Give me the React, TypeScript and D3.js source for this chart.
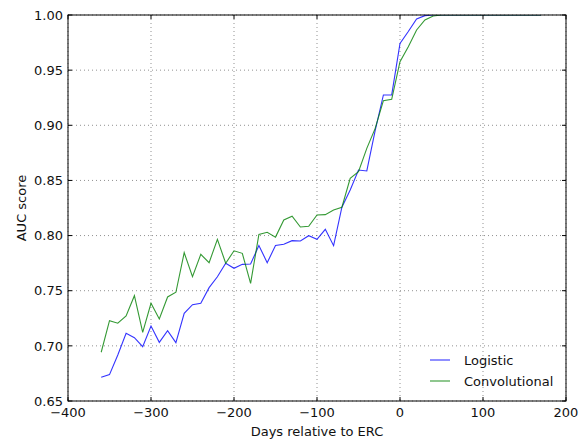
import React from "react";
import * as d3 from "d3";

const days = [-360,-350,-340,-330,-320,-310,-300,-290,-280,-270,-260,-250,-240,-230,-220,-210,-200,-190,-180,-170,-160,-150,-140,-130,-120,-110,-100,-90,-80,-70,-60,-50,-40,-30,-20,-10,0,10,20,30,40,50,60,70,80,90,100,110,120,130,140,150,160,170];

const logistic = [0.6715,0.6739,0.6917,0.7114,0.7074,0.6993,0.7180,0.7032,0.7138,0.7029,0.7295,0.7373,0.7386,0.7528,0.7627,0.7749,0.7703,0.7739,0.7742,0.7910,0.7754,0.7910,0.7921,0.7954,0.7951,0.7999,0.7966,0.8057,0.7908,0.8257,0.8413,0.8594,0.8586,0.8950,0.9275,0.9275,0.9743,0.9850,0.9964,0.9994,1.0,1.0,1.0,1.0,1.0,1.0,1.0,1.0,1.0,1.0,1.0,1.0,1.0,1.0];

const convolutional = [0.6942,0.7228,0.7205,0.7271,0.7455,0.7123,0.7386,0.7244,0.7443,0.7486,0.7845,0.7627,0.7830,0.7754,0.7966,0.7749,0.7862,0.7839,0.7566,0.8010,0.8030,0.7986,0.8141,0.8175,0.8078,0.8084,0.8187,0.8190,0.8232,0.8257,0.8519,0.8579,0.8791,0.8970,0.9223,0.9235,0.9577,0.9713,0.9864,0.9955,0.9991,1.0,1.0,1.0,1.0,1.0,1.0,1.0,1.0,1.0,1.0,1.0,1.0,1.0];

const xTicks = [-400,-300,-200,-100,0,100,200];
const yTicks = [0.65,0.70,0.75,0.80,0.85,0.90,0.95,1.00];

const seriesNames = ["Logistic", "Convolutional"];
const seriesColors = ["#0000ff", "#008000"];

export default function App() {
  const W = 579, H = 446;
  const L = 68, R = 566, T = 15, B = 401;
  const x = d3.scaleLinear().domain([-400, 200]).range([L, R]);
  const y = d3.scaleLinear().domain([0.65, 1.0]).range([B, T]);
  const line = d3.line<number>().x((_, i) => x(days[i])).y((d) => y(d));
  const font = "DejaVu Sans, sans-serif";
  const series = [logistic, convolutional];
  const fs = 13;
  return (
    <svg width={W} height={H} style={{ position: "absolute", left: 0, top: 0, background: "#fff" }} fontFamily={font}>
      <defs>
        <clipPath id="clip"><rect x={L} y={T} width={R - L} height={B - T} /></clipPath>
      </defs>
      <rect x={0} y={0} width={W} height={H} fill="#fff" />
      {xTicks.map((t) => (
        <line key={"gx" + t} x1={x(t)} x2={x(t)} y1={T} y2={B} stroke="#000" strokeOpacity={0.55} strokeWidth={0.8} strokeDasharray="1 3" />
      ))}
      {yTicks.map((t) => (
        <line key={"gy" + t} x1={L} x2={R} y1={y(t)} y2={y(t)} stroke="#000" strokeOpacity={0.55} strokeWidth={0.8} strokeDasharray="1 3" />
      ))}
      <g clipPath="url(#clip)">
        {series.map((s, i) => (
          <path key={i} d={line(s) || ""} fill="none" stroke={seriesColors[i]} strokeOpacity={0.8} strokeWidth={1.1} />
        ))}
      </g>
      {xTicks.map((t) => (
        <g key={"tx" + t}>
          <line x1={x(t)} x2={x(t)} y1={B} y2={B - 4} stroke="#000" />
          <line x1={x(t)} x2={x(t)} y1={T} y2={T + 4} stroke="#000" />
          <text x={x(t)} y={B + 16} fontSize={fs} textAnchor="middle" fill="#111">{t < 0 ? "\u2212" + Math.abs(t) : t}</text>
        </g>
      ))}
      {yTicks.map((t) => (
        <g key={"ty" + t}>
          <line x1={L} x2={L + 4} y1={y(t)} y2={y(t)} stroke="#000" />
          <line x1={R} x2={R - 4} y1={y(t)} y2={y(t)} stroke="#000" />
          <text x={L - 5} y={y(t) + 4.7} fontSize={fs} textAnchor="end" fill="#111">{t.toFixed(2)}</text>
        </g>
      ))}
      <rect x={L} y={T} width={R - L} height={B - T} fill="none" stroke="#000" strokeWidth={1} />
      <text x={(L + R) / 2} y={436} fontSize={fs} textAnchor="middle" fill="#111">Days relative to ERC</text>
      <text transform={`translate(26,${(T + B) / 2}) rotate(-90)`} fontSize={fs} textAnchor="middle" fill="#111">AUC score</text>
      {seriesNames.map((n, i) => (
        <g key={n}>
          <line x1={430} x2={450} y1={360 + i * 21} y2={360 + i * 21} stroke={seriesColors[i]} strokeOpacity={0.8} strokeWidth={1.1} />
          <text x={464} y={364.5 + i * 21} fontSize={fs} fill="#111">{n}</text>
        </g>
      ))}
    </svg>
  );
}
